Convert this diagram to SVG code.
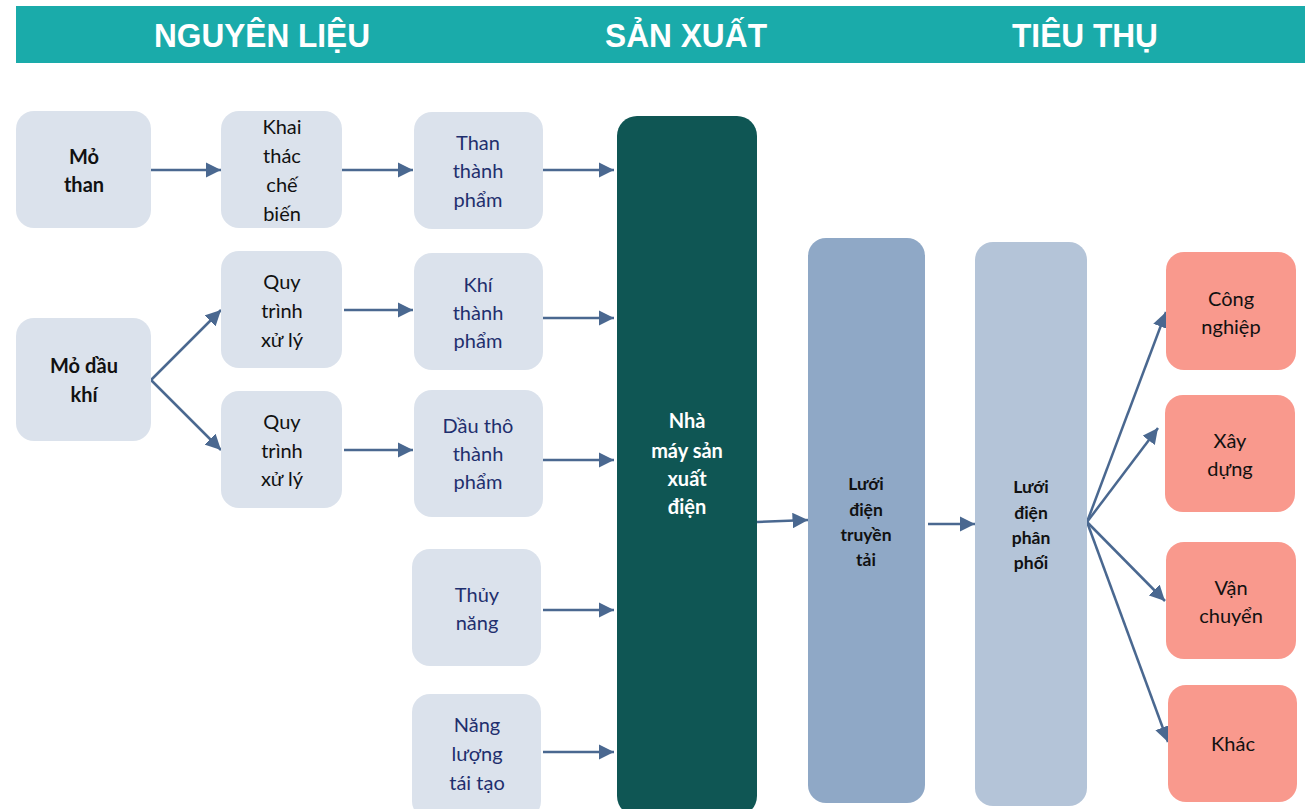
<svg xmlns="http://www.w3.org/2000/svg" width="1311" height="809" viewBox="0 0 1311 809">
<defs>
<marker id="ah" viewBox="0 0 10 10" refX="10" refY="5" markerWidth="6.2" markerHeight="6.2" markerUnits="strokeWidth" orient="auto">
<path d="M0,0 L10,5 L0,10 z" fill="#4a6890"/>
</marker>
<style>
.hd{font-family:"Liberation Sans",Arial,sans-serif;font-weight:bold;font-size:33px;fill:#ffffff;text-anchor:middle}
.lt{fill:#dbe2ec}
.t{font-family:Lato,"Noto Sans",sans-serif;font-size:20px;text-anchor:middle}
.b{font-weight:bold}
.k{fill:#111111}
.n{fill:#1f2f6e}
.w{fill:#ffffff}
.s{font-size:17.5px}
.c{stroke:#4a6890;stroke-width:2.5;fill:none;marker-end:url(#ah)}
</style>
</defs>
<rect width="1311" height="809" fill="#ffffff"/>
<g id="header">
<rect x="16" y="6" width="1289" height="57" fill="#1aabaa"/>
<text class="hd" x="262" y="47" textLength="216" lengthAdjust="spacingAndGlyphs">NGUYÊN LIỆU</text>
<text class="hd" x="686" y="47" textLength="162" lengthAdjust="spacingAndGlyphs">SẢN XUẤT</text>
<text class="hd" x="1085" y="47" textLength="146" lengthAdjust="spacingAndGlyphs">TIÊU THỤ</text>
</g>
<g id="connectors">
<line class="c" x1="151" y1="170" x2="221" y2="170"/>
<line class="c" x1="342" y1="170" x2="413" y2="170"/>
<line class="c" x1="543" y1="170" x2="614" y2="170"/>
<line class="c" x1="151" y1="380" x2="221" y2="310"/>
<line class="c" x1="151" y1="380" x2="221" y2="450"/>
<line class="c" x1="344" y1="310" x2="413" y2="310"/>
<line class="c" x1="543" y1="318" x2="614" y2="318"/>
<line class="c" x1="344" y1="450" x2="413" y2="450"/>
<line class="c" x1="543" y1="460" x2="614" y2="460"/>
<line class="c" x1="543" y1="610" x2="614" y2="610"/>
<line class="c" x1="543" y1="752" x2="614" y2="752"/>
<line class="c" x1="757" y1="522" x2="808" y2="520"/>
<line class="c" x1="928" y1="524" x2="975" y2="524"/>
<line class="c" x1="1087" y1="522" x2="1166" y2="312"/>
<line class="c" x1="1087" y1="522" x2="1158" y2="428"/>
<line class="c" x1="1087" y1="522" x2="1165" y2="601"/>
<line class="c" x1="1087" y1="522" x2="1168" y2="742"/>
</g>
<g id="mo-than">
<rect class="lt" x="16" y="111" width="135" height="117" rx="18"/>
<text class="t b k" x="84" y="164">Mỏ</text>
<text class="t b k" x="84" y="192">than</text>
</g>
<g id="khai-thac">
<rect class="lt" x="221" y="111" width="121" height="117" rx="18"/>
<text class="t k" x="282" y="134">Khai</text>
<text class="t k" x="282" y="163">thác</text>
<text class="t k" x="282" y="192">chế</text>
<text class="t k" x="282" y="221">biến</text>
</g>
<g id="than-tp">
<rect class="lt" x="414" y="112" width="129" height="117" rx="18"/>
<text class="t n" x="478" y="150">Than</text>
<text class="t n" x="478" y="178">thành</text>
<text class="t n" x="478" y="207">phẩm</text>
</g>
<g id="quy-trinh-1">
<rect class="lt" x="221" y="251" width="121" height="117" rx="18"/>
<text class="t k" x="282" y="289">Quy</text>
<text class="t k" x="282" y="318">trình</text>
<text class="t k" x="282" y="347">xử lý</text>
</g>
<g id="khi-tp">
<rect class="lt" x="414" y="253" width="129" height="117" rx="18"/>
<text class="t n" x="478" y="292">Khí</text>
<text class="t n" x="478" y="320">thành</text>
<text class="t n" x="478" y="348">phẩm</text>
</g>
<g id="mo-dau-khi">
<rect class="lt" x="16" y="318" width="135" height="123" rx="18"/>
<text class="t b k" x="84" y="373">Mỏ dầu</text>
<text class="t b k" x="84" y="402">khí</text>
</g>
<g id="quy-trinh-2">
<rect class="lt" x="221" y="391" width="121" height="117" rx="18"/>
<text class="t k" x="282" y="429">Quy</text>
<text class="t k" x="282" y="458">trình</text>
<text class="t k" x="282" y="486">xử lý</text>
</g>
<g id="dau-tho-tp">
<rect class="lt" x="414" y="390" width="129" height="127" rx="18"/>
<text class="t n" x="478" y="433">Dầu thô</text>
<text class="t n" x="478" y="461">thành</text>
<text class="t n" x="478" y="489">phẩm</text>
</g>
<g id="thuy-nang">
<rect class="lt" x="412" y="549" width="129" height="117" rx="18"/>
<text class="t n" x="477" y="602">Thủy</text>
<text class="t n" x="477" y="630">năng</text>
</g>
<g id="nang-luong">
<rect class="lt" x="412" y="694" width="129" height="125" rx="18"/>
<text class="t n" x="477" y="732">Năng</text>
<text class="t n" x="477" y="761">lượng</text>
<text class="t n" x="477" y="790">tái tạo</text>
</g>
<g id="nha-may">
<rect x="617" y="116" width="140" height="700" rx="20" fill="#0f5654"/>
<text class="t b w" x="687" y="428">Nhà</text>
<text class="t b w" x="687" y="458">máy sản</text>
<text class="t b w" x="687" y="486">xuất</text>
<text class="t b w" x="687" y="514">điện</text>
</g>
<g id="luoi-truyen-tai">
<rect x="808" y="238" width="117" height="565" rx="18" fill="#8fa8c6"/>
<text class="t b k s" x="866" y="490">Lưới</text>
<text class="t b k s" x="866" y="516">điện</text>
<text class="t b k s" x="866" y="541">truyền</text>
<text class="t b k s" x="866" y="566">tải</text>
</g>
<g id="luoi-phan-phoi">
<rect x="975" y="242" width="112" height="564" rx="18" fill="#b4c4d8"/>
<text class="t b k s" x="1031" y="493">Lưới</text>
<text class="t b k s" x="1031" y="519">điện</text>
<text class="t b k s" x="1031" y="544">phân</text>
<text class="t b k s" x="1031" y="569">phối</text>
</g>
<g id="cong-nghiep">
<rect x="1166" y="252" width="130" height="118" rx="18" fill="#f9998d"/>
<text class="t k" x="1231" y="306">Công</text>
<text class="t k" x="1231" y="334">nghiệp</text>
</g>
<g id="xay-dung">
<rect x="1165" y="395" width="130" height="117" rx="18" fill="#f9998d"/>
<text class="t k" x="1230" y="448">Xây</text>
<text class="t k" x="1230" y="476">dựng</text>
</g>
<g id="van-chuyen">
<rect x="1166" y="542" width="130" height="117" rx="18" fill="#f9998d"/>
<text class="t k" x="1231" y="595">Vận</text>
<text class="t k" x="1231" y="623">chuyển</text>
</g>
<g id="khac">
<rect x="1168" y="685" width="129" height="117" rx="18" fill="#f9998d"/>
<text class="t k" x="1233" y="751">Khác</text>
</g>
</svg>
